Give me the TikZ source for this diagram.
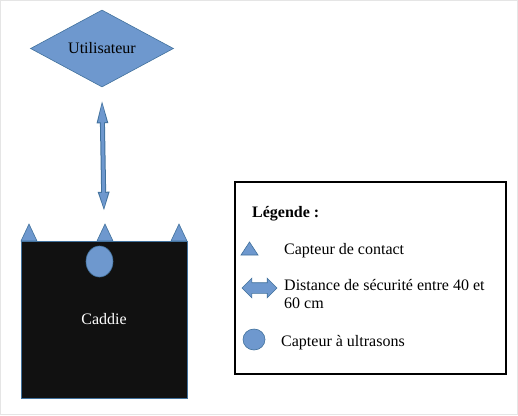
\documentclass[tikz,border=0pt]{standalone}
\usepackage{fontspec}
\setmainfont{Liberation Serif}
\usetikzlibrary{shapes.geometric,shapes.arrows,arrows.meta}
\definecolor{sensorblue}{RGB}{110,152,206}
\definecolor{sensorline}{RGB}{65,113,156}
\definecolor{caddieblack}{RGB}{17,17,17}
\tikzset{
  sensor/.style={fill=sensorblue,draw=sensorline,line width=0.6pt},
  legtext/.style={anchor=base west,inner sep=0pt,align=left},
}
\begin{document}
\begin{tikzpicture}[x=1pt,y=-1pt,font=\fontsize{16}{18}\selectfont]
  \useasboundingbox (0,0) rectangle (518,415);
  \draw[gray!20] (0.5,0.5) rectangle (517.5,414.5);
  % utilisateur et caddie
  \node[sensor,diamond,aspect=1.86,minimum width=143pt,minimum height=77pt,inner sep=2pt] (user) at (102,48.5) {Utilisateur};
  \node[fill=caddieblack,draw=sensorline,minimum width=166pt,minimum height=157pt,text=white,inner sep=0pt] (caddie) at (104,319.5) {Caddie};
  \node[sensor,ellipse,minimum width=27pt,minimum height=31pt,inner sep=0pt] (us) at (99.5,261.5) {};
  \foreach \x in {21,97,171}
    \draw[sensor] (\x,241) -- ++(8,-17) -- ++(8,17) -- cycle;
  % distance
  \coordinate (gaptop) at ([yshift=-11pt]user.south);
  \coordinate (gapbot) at ([yshift=28pt]caddie.north);
  \draw[sensorline,line width=5pt,{Triangle[length=25pt,width=10pt]}-{Triangle[length=21pt,width=10pt]}] (gaptop) -- (gapbot);
  \draw[sensorblue,line width=3pt,shorten <=4pt,shorten >=4pt,{Triangle[length=20pt,width=8pt]}-{Triangle[length=16pt,width=8pt]}] (gaptop) -- (gapbot);
  % legende
  \draw[line width=1.3pt] (235,182) rectangle (506,374);
  \node[legtext,font=\fontsize{16}{18}\selectfont\bfseries] (title) at (252,217) {Légende :};
  \draw[sensor] (241,255) -- (249.5,242) -- (258,255) -- cycle;
  \node[legtext] (contact) at (284,254) {Capteur de contact};
  \node[sensor,double arrow,minimum height=35pt,minimum width=19pt,double arrow head extend=4.5pt,inner xsep=0pt,inner ysep=5pt] (distarrow) at (259.5,288) {};
  \node[legtext] (dist) at (284,308) {Distance de sécurité entre 40 et\\60 cm};
  \node[sensor,ellipse,minimum width=22pt,minimum height=21pt,inner sep=0pt] (uslegend) at (254,339.5) {};
  \node[legtext] (ultra) at (281,346) {Capteur à ultrasons};
\end{tikzpicture}
\end{document}
